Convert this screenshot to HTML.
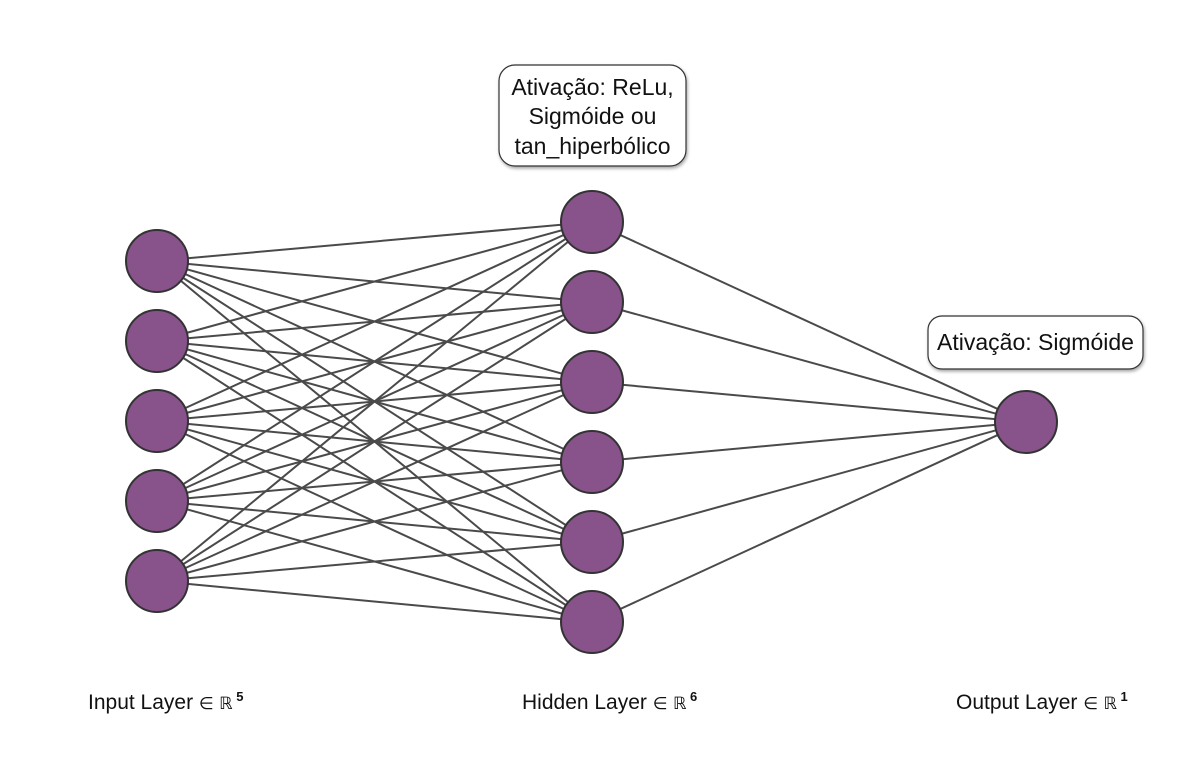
<!DOCTYPE html>
<html><head><meta charset="utf-8"><style>
html,body{margin:0;padding:0;background:#fff;}
svg{display:block}
text{font-family:"Liberation Sans","DejaVu Sans",sans-serif;fill:#111}
</style></head><body>
<svg width="1192" height="770" viewBox="0 0 1192 770" xmlns="http://www.w3.org/2000/svg">
<defs><filter id="sh" x="-10%" y="-10%" width="130%" height="140%"><feDropShadow dx="1" dy="2" stdDeviation="1.5" flood-color="#000" flood-opacity="0.35"/></filter></defs>
<g stroke="#4a4a4a" stroke-width="2">
<line x1="157" y1="261" x2="592" y2="222"/><line x1="157" y1="261" x2="592" y2="302"/><line x1="157" y1="261" x2="592" y2="382"/><line x1="157" y1="261" x2="592" y2="462"/><line x1="157" y1="261" x2="592" y2="542"/><line x1="157" y1="261" x2="592" y2="622"/>
<line x1="157" y1="341" x2="592" y2="222"/><line x1="157" y1="341" x2="592" y2="302"/><line x1="157" y1="341" x2="592" y2="382"/><line x1="157" y1="341" x2="592" y2="462"/><line x1="157" y1="341" x2="592" y2="542"/><line x1="157" y1="341" x2="592" y2="622"/>
<line x1="157" y1="421" x2="592" y2="222"/><line x1="157" y1="421" x2="592" y2="302"/><line x1="157" y1="421" x2="592" y2="382"/><line x1="157" y1="421" x2="592" y2="462"/><line x1="157" y1="421" x2="592" y2="542"/><line x1="157" y1="421" x2="592" y2="622"/>
<line x1="157" y1="501" x2="592" y2="222"/><line x1="157" y1="501" x2="592" y2="302"/><line x1="157" y1="501" x2="592" y2="382"/><line x1="157" y1="501" x2="592" y2="462"/><line x1="157" y1="501" x2="592" y2="542"/><line x1="157" y1="501" x2="592" y2="622"/>
<line x1="157" y1="581" x2="592" y2="222"/><line x1="157" y1="581" x2="592" y2="302"/><line x1="157" y1="581" x2="592" y2="382"/><line x1="157" y1="581" x2="592" y2="462"/><line x1="157" y1="581" x2="592" y2="542"/><line x1="157" y1="581" x2="592" y2="622"/>
<line x1="592" y1="222" x2="1026" y2="422"/><line x1="592" y1="302" x2="1026" y2="422"/><line x1="592" y1="382" x2="1026" y2="422"/><line x1="592" y1="462" x2="1026" y2="422"/><line x1="592" y1="542" x2="1026" y2="422"/><line x1="592" y1="622" x2="1026" y2="422"/>
</g>
<g fill="#88528a" stroke="#333" stroke-width="2">
<circle cx="157" cy="261" r="31"/><circle cx="157" cy="341" r="31"/><circle cx="157" cy="421" r="31"/><circle cx="157" cy="501" r="31"/><circle cx="157" cy="581" r="31"/>
<circle cx="592" cy="222" r="31"/><circle cx="592" cy="302" r="31"/><circle cx="592" cy="382" r="31"/><circle cx="592" cy="462" r="31"/><circle cx="592" cy="542" r="31"/><circle cx="592" cy="622" r="31"/>
<circle cx="1026" cy="422" r="31"/>
</g>
<rect x="499" y="65" width="187" height="101" rx="16" fill="#fff" stroke="#333" stroke-width="1.2" filter="url(#sh)"/>
<text x="592.5" y="95" font-size="23" text-anchor="middle">Ativação: ReLu,</text>
<text x="592.5" y="124" font-size="23" text-anchor="middle">Sigmóide ou</text>
<text x="592.5" y="154" font-size="23" text-anchor="middle">tan_hiperbólico</text>
<rect x="928" y="316" width="215" height="53" rx="14" fill="#fff" stroke="#333" stroke-width="1.2" filter="url(#sh)"/>
<text x="1035.5" y="350" font-size="23" text-anchor="middle">Ativação: Sigmóide</text>
<text x="88" y="709" font-size="21">Input Layer <tspan font-family="DejaVu Sans" font-size="17">∈ ℝ</tspan><tspan font-size="13" dy="-8" font-weight="bold"> 5</tspan></text>
<text x="522" y="709" font-size="21">Hidden Layer <tspan font-family="DejaVu Sans" font-size="17">∈ ℝ</tspan><tspan font-size="13" dy="-8" font-weight="bold"> 6</tspan></text>
<text x="956" y="709" font-size="21">Output Layer <tspan font-family="DejaVu Sans" font-size="17">∈ ℝ</tspan><tspan font-size="13" dy="-8" font-weight="bold"> 1</tspan></text>
</svg>
</body></html>
